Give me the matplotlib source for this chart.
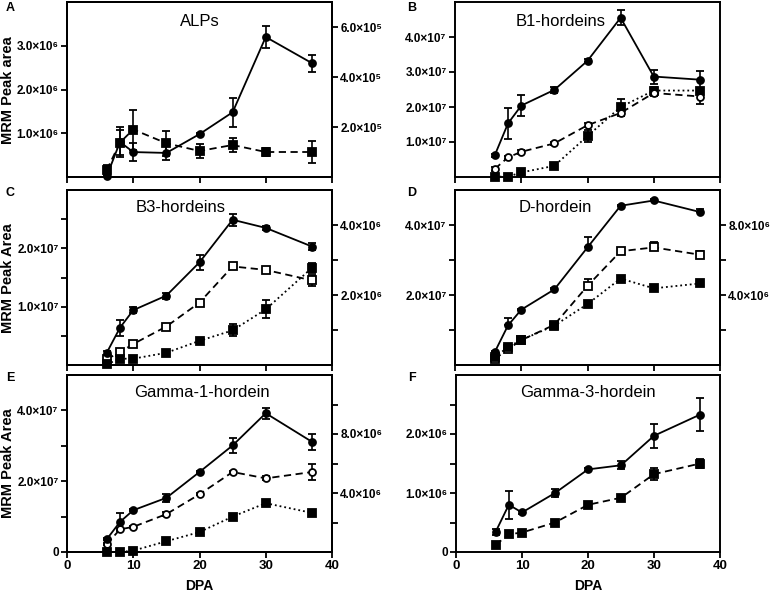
import matplotlib
matplotlib.use('Agg')
import matplotlib.pyplot as plt
import numpy as np

plt.rcParams['font.family'] = ['Liberation Sans', 'DejaVu Sans']

# Days post anthesis (shared x values)
dpa = [6, 8, 10, 15, 20, 25, 30, 37]

# A - ALPs
alps_circle = [0.02e6, 0.80e6, 0.57e6, 0.55e6, 0.98e6, 1.48e6, 3.20e6, 2.60e6]
alps_circle_err = [0.03e6, 0.35e6, 0.20e6, 0.15e6, 0.03e6, 0.33e6, 0.26e6, 0.20e6]
alps_square = [0.28e5, 1.38e5, 1.90e5, 1.35e5, 1.04e5, 1.28e5, 1.00e5, 1.00e5]
alps_square_err = [0.20e5, 0.50e5, 0.80e5, 0.50e5, 0.27e5, 0.28e5, 0.15e5, 0.43e5]

# B - B1-hordeins
b1_circle = [0.62e7, 1.53e7, 2.04e7, 2.49e7, 3.32e7, 4.55e7, 2.87e7, 2.78e7]
b1_circle_err = [0.05e7, 0.45e7, 0.30e7, 0.08e7, 0.04e7, 0.22e7, 0.20e7, 0.25e7]
b1_open = [0.23e7, 0.56e7, 0.72e7, 0.96e7, 1.48e7, 1.83e7, 2.40e7, 2.30e7]
b1_open_err = [0.05e7, 0.05e7, 0.05e7, 0.05e7, 0.05e7, 0.08e7, 0.08e7, 0.21e7]
b1_square = [0.01e7, 0.01e7, 0.13e7, 0.32e7, 1.17e7, 2.00e7, 2.47e7, 2.47e7]
b1_square_err = [0.02e7, 0.02e7, 0.05e7, 0.04e7, 0.17e7, 0.23e7, 0.10e7, 0.08e7]

# C - B3-hordeins
b3_circle = [0.21e7, 0.64e7, 0.94e7, 1.19e7, 1.76e7, 2.49e7, 2.35e7, 2.03e7]
b3_circle_err = [0.03e7, 0.14e7, 0.05e7, 0.05e7, 0.13e7, 0.10e7, 0.03e7, 0.06e7]
b3_open = [0.10e7, 0.22e7, 0.36e7, 0.66e7, 1.07e7, 1.69e7, 1.63e7, 1.45e7]
b3_open_err = [0.03e7, 0.03e7, 0.03e7, 0.03e7, 0.04e7, 0.04e7, 0.04e7, 0.10e7]
b3_square = [0.02e6, 0.18e6, 0.18e6, 0.35e6, 0.69e6, 0.99e6, 1.59e6, 2.78e6]
b3_square_err = [0.05e6, 0.05e6, 0.05e6, 0.05e6, 0.05e6, 0.17e6, 0.26e6, 0.14e6]

# D - D-hordein
d_circle = [0.37e7, 1.13e7, 1.58e7, 2.16e7, 3.36e7, 4.55e7, 4.70e7, 4.37e7]
d_circle_err = [0.03e7, 0.20e7, 0.03e7, 0.03e7, 0.31e7, 0.03e7, 0.03e7, 0.10e7]
d_open = [0.17e7, 0.45e7, 0.71e7, 1.15e7, 2.26e7, 3.25e7, 3.36e7, 3.15e7]
d_open_err = [0.03e7, 0.08e7, 0.03e7, 0.05e7, 0.20e7, 0.05e7, 0.15e7, 0.10e7]
d_square = [0.43e6, 1.03e6, 1.43e6, 2.25e6, 3.48e6, 4.94e6, 4.38e6, 4.66e6]
d_square_err = [0.05e6, 0.05e6, 0.05e6, 0.05e6, 0.05e6, 0.05e6, 0.05e6, 0.05e6]

# E - Gamma-1-hordein
g1_circle = [0.36e7, 0.85e7, 1.18e7, 1.53e7, 2.26e7, 3.01e7, 3.92e7, 3.11e7]
g1_circle_err = [0.03e7, 0.24e7, 0.03e7, 0.12e7, 0.03e7, 0.22e7, 0.16e7, 0.22e7]
g1_open = [0.22e7, 0.64e7, 0.71e7, 1.07e7, 1.63e7, 2.26e7, 2.08e7, 2.26e7]
g1_open_err = [0.03e7, 0.05e7, 0.03e7, 0.05e7, 0.03e7, 0.03e7, 0.06e7, 0.22e7]
g1_square = [0.0e6, 0.0e6, 0.09e6, 0.73e6, 1.35e6, 2.40e6, 3.31e6, 2.65e6]
g1_square_err = [0.03e6, 0.03e6, 0.03e6, 0.05e6, 0.05e6, 0.05e6, 0.05e6, 0.15e6]

# F - Gamma-3-hordein
g3_circle = [0.34e6, 0.80e6, 0.67e6, 1.00e6, 1.40e6, 1.47e6, 1.97e6, 2.33e6]
g3_circle_err = [0.05e6, 0.24e6, 0.03e6, 0.07e6, 0.03e6, 0.07e6, 0.20e6, 0.28e6]
g3_square = [0.12e6, 0.30e6, 0.33e6, 0.50e6, 0.80e6, 0.92e6, 1.32e6, 1.50e6]
g3_square_err = [0.02e6, 0.03e6, 0.03e6, 0.03e6, 0.03e6, 0.03e6, 0.10e6, 0.07e6]

W, H = 772, 594
DASH = (0, (4, 2.5))


def axes_rect(left, top, right, bottom):
    """Convert pixel box to figure fraction rectangle."""
    return [left / W, 1 - bottom / H, (right - left) / W, (bottom - top) / H]


def style_axis(ax, ylim, yticks, ylabels, show_x=False, twin=False):
    ax.set_ylim(*ylim)
    if not twin:
        ax.set_xlim(0, 40)
        ax.set_xticks([0, 10, 20, 30, 40])
        if show_x:
            ax.set_xticklabels(['0', '10', '20', '30', '40'], fontsize=9.5, fontweight='bold')
        else:
            ax.set_xticklabels([])
    ax.set_yticks(yticks)
    ax.set_yticklabels(ylabels, fontsize=8.5, fontweight='bold')
    ax.tick_params(direction='out', length=4, width=1.3, pad=2)
    for s in ax.spines.values():
        s.set_linewidth(1.4)


def draw(ax, y, err, marker, ls, filled=True, one_sided=False):
    yerr = [np.zeros(len(err)), err] if one_sided else err
    ax.errorbar(dpa, y, yerr=yerr, color='black', marker=marker, ls=ls, lw=1.3,
                ms=5 if marker == 'o' else 5.5,
                mfc='black' if filled else 'white', mec='black', mew=1.3,
                capsize=3, elinewidth=1.2, capthick=1.2, clip_on=False, zorder=3)


def sci(v, e):
    return v + '×10' + {'5': '⁵', '6': '⁶', '7': '⁷'}[e]


fig = plt.figure(figsize=(W / 100, H / 100), dpi=100)

# A - ALPs
ax = fig.add_axes(axes_rect(67, 2, 332, 177))
draw(ax, alps_circle, alps_circle_err, 'o', '-')
style_axis(ax, (0, 4e6), [1e6, 2e6, 3e6],
           [sci('1.0', '6'), sci('2.0', '6'), sci('3.0', '6')])
ax2 = ax.twinx()
draw(ax2, alps_square, alps_square_err, 's', DASH)
style_axis(ax2, (0, 7e5), [2e5, 4e5, 6e5],
           [sci('2.0', '5'), sci('4.0', '5'), sci('6.0', '5')], twin=True)
ax.text(0.5, 0.89, 'ALPs', transform=ax.transAxes, ha='center', va='center', fontsize=12)

# B - B1-hordeins
ax = fig.add_axes(axes_rect(455, 2, 720, 177))
draw(ax, b1_square, b1_square_err, 's', ':')
draw(ax, b1_open, b1_open_err, 'o', DASH, filled=False)
draw(ax, b1_circle, b1_circle_err, 'o', '-')
style_axis(ax, (0, 5e7), [1e7, 2e7, 3e7, 4e7],
           [sci('1.0', '7'), sci('2.0', '7'), sci('3.0', '7'), sci('4.0', '7')])
ax.text(0.40, 0.89, 'B1-hordeins', transform=ax.transAxes, ha='center', va='center', fontsize=12)

# C - B3-hordeins
ax = fig.add_axes(axes_rect(67, 190, 332, 365))
draw(ax, b3_open, b3_open_err, 's', DASH, filled=False)
draw(ax, b3_circle, b3_circle_err, 'o', '-')
style_axis(ax, (0, 3e7), [0.5e7, 1e7, 1.5e7, 2e7, 2.5e7],
           ['', sci('1.0', '7'), '', sci('2.0', '7'), ''])
ax2 = ax.twinx()
draw(ax2, b3_square, b3_square_err, 's', ':')
style_axis(ax2, (0, 5e6), [1e6, 2e6, 3e6, 4e6],
           ['', sci('2.0', '6'), '', sci('4.0', '6')], twin=True)
ax.text(0.43, 0.90, 'B3-hordeins', transform=ax.transAxes, ha='center', va='center', fontsize=12)

# D - D-hordein
ax = fig.add_axes(axes_rect(455, 190, 720, 365))
draw(ax, d_open, d_open_err, 's', DASH, filled=False, one_sided=True)
draw(ax, d_circle, d_circle_err, 'o', '-', one_sided=True)
style_axis(ax, (0, 5e7), [1e7, 2e7, 3e7, 4e7],
           ['', sci('2.0', '7'), '', sci('4.0', '7')])
ax2 = ax.twinx()
draw(ax2, d_square, d_square_err, 's', ':', one_sided=True)
style_axis(ax2, (0, 1e7), [2e6, 4e6, 6e6, 8e6],
           ['', sci('4.0', '6'), '', sci('8.0', '6')], twin=True)
ax.text(0.38, 0.90, 'D-hordein', transform=ax.transAxes, ha='center', va='center', fontsize=12)

# E - Gamma-1-hordein
ax = fig.add_axes(axes_rect(67, 375, 332, 552))
draw(ax, g1_open, g1_open_err, 'o', DASH, filled=False)
draw(ax, g1_circle, g1_circle_err, 'o', '-')
style_axis(ax, (0, 5e7), [0, 1e7, 2e7, 3e7, 4e7],
           ['0', '', sci('2.0', '7'), '', sci('4.0', '7')], show_x=True)
ax2 = ax.twinx()
draw(ax2, g1_square, g1_square_err, 's', ':')
style_axis(ax2, (0, 1.2e7), [2e6, 4e6, 6e6, 8e6, 10e6],
           ['', sci('4.0', '6'), '', sci('8.0', '6'), ''], twin=True)
ax.text(0.51, 0.90, 'Gamma-1-hordein', transform=ax.transAxes, ha='center', va='center', fontsize=12)

# F - Gamma-3-hordein
ax = fig.add_axes(axes_rect(456, 375, 720, 552))
draw(ax, g3_square, g3_square_err, 's', DASH)
draw(ax, g3_circle, g3_circle_err, 'o', '-')
style_axis(ax, (0, 3e6), [0, 0.5e6, 1e6, 1.5e6, 2e6, 2.5e6],
           ['0', '', sci('1.0', '6'), '', sci('2.0', '6'), ''], show_x=True)
ax.text(0.50, 0.90, 'Gamma-3-hordein', transform=ax.transAxes, ha='center', va='center', fontsize=12)

# Shared labels placed in pixel positions
for label, py in [('MRM Peak area', 90), ('MRM Peak Area', 278), ('MRM Peak Area', 463)]:
    fig.text(8 / W, 1 - py / H, label, rotation=90, fontsize=10.5, fontweight='bold',
             ha='center', va='center')
for px in [199, 588]:
    fig.text(px / W, 1 - 586 / H, 'DPA', fontsize=10, fontweight='bold', ha='center', va='center')

# Panel letters
for letter, (px, py) in zip('ABCDEF', [(10, 8), (412, 8), (10, 193), (412, 193), (10, 378), (412, 378)]):
    fig.text(px / W, 1 - py / H, letter, fontsize=9, fontweight='bold', ha='center', va='center')

plt.savefig('out.png', dpi=100)
